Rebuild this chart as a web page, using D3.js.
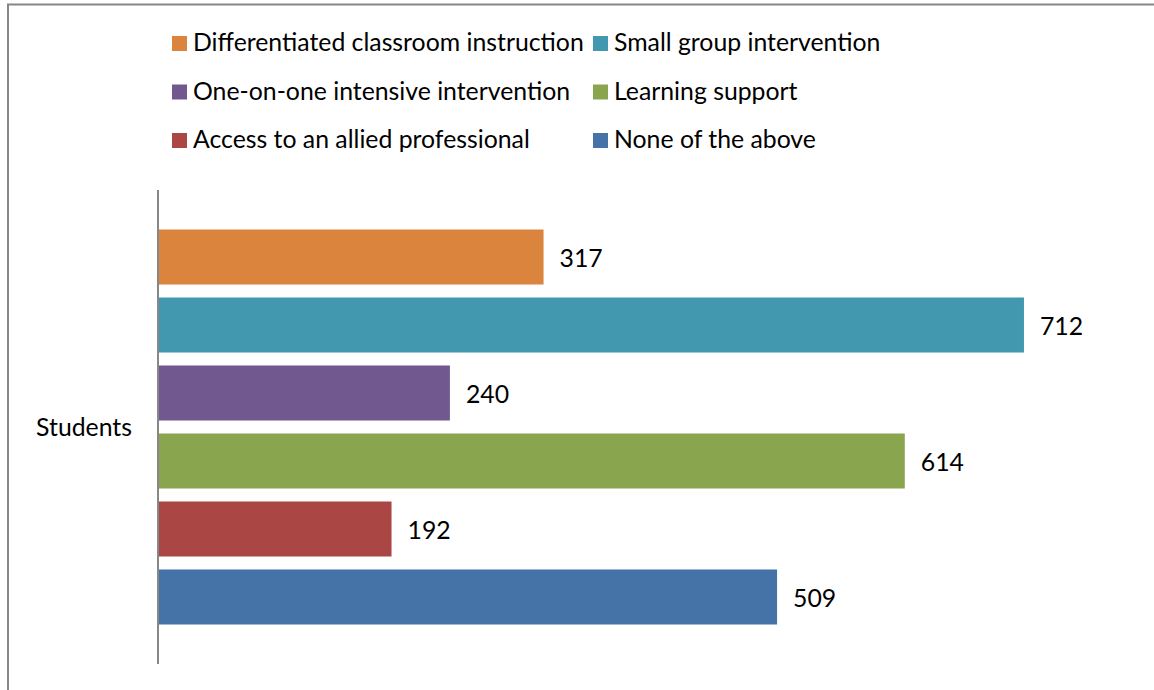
<!DOCTYPE html>
<html>
<head>
<meta charset="utf-8">
<script src="https://cdn.jsdelivr.net/npm/d3@7"></script>
<style>
  body { margin: 0; background: #fff; }
  svg text { font-family: Lato, "Liberation Sans", sans-serif; fill: #000; }
</style>
</head>
<body>
<svg id="chart" width="1154" height="690"></svg>
<script>
// data
var category = "Students";
var seriesNames = [
  "Differentiated classroom instruction",
  "Small group intervention",
  "One-on-one intensive intervention",
  "Learning support",
  "Access to an allied professional",
  "None of the above"
];
var seriesValues = [317, 712, 240, 614, 192, 509];
var seriesColors = ["#DB843D", "#4198AF", "#71588F", "#89A54E", "#AA4643", "#4572A7"];

var width = 1154, height = 690;
var fontSize = 24.8;

var svg = d3.select("#chart");

// outer chart frame (runs off the right and bottom edge)
svg.append("rect")
  .attr("x", 8).attr("y", 4.5)
  .attr("width", 1300).attr("height", 900)
  .attr("fill", "#fff")
  .attr("stroke", "#878787")
  .attr("stroke-width", 2);

var x = d3.scaleLinear()
  .domain([0, 800])
  .range([158, 1131]);

var y = d3.scaleBand()
  .domain(seriesNames)
  .range([190, 664])
  .paddingInner(0.191)
  .paddingOuter(0.581);

// bars
svg.append("g")
  .selectAll("rect")
  .data(seriesNames)
  .enter()
  .append("rect")
  .attr("x", x(0))
  .attr("y", function(d) { return y(d); })
  .attr("width", function(d, i) { return x(seriesValues[i]) - x(0); })
  .attr("height", y.bandwidth())
  .attr("fill", function(d, i) { return seriesColors[i]; });

// value labels
svg.append("g")
  .selectAll("text")
  .data(seriesNames)
  .enter()
  .append("text")
  .attr("x", function(d, i) { return x(seriesValues[i]) + 16; })
  .attr("y", function(d) { return y(d) + y.bandwidth() / 2 + 10; })
  .attr("font-size", fontSize)
  .text(function(d, i) { return seriesValues[i]; });

// category axis line
svg.append("line")
  .attr("x1", 158).attr("x2", 158)
  .attr("y1", 190).attr("y2", 664)
  .attr("stroke", "#878787")
  .attr("stroke-width", 2);

// category label
svg.append("text")
  .attr("x", 132)
  .attr("y", (190 + 664) / 2 + 9)
  .attr("text-anchor", "end")
  .attr("font-size", fontSize)
  .text(category);

// legend, two columns filled row by row
var legendCols = [172, 593];
var legendRows = [36, 84.5, 133];

var legend = svg.append("g")
  .selectAll("g")
  .data(seriesNames)
  .enter()
  .append("g")
  .attr("transform", function(d, i) {
    return "translate(" + legendCols[i % 2] + "," + legendRows[Math.floor(i / 2)] + ")";
  });

legend.append("rect")
  .attr("width", 15).attr("height", 15)
  .attr("fill", function(d, i) { return seriesColors[i]; });

legend.append("text")
  .attr("x", 21)
  .attr("y", 15)
  .attr("font-size", fontSize)
  .text(function(d) { return d; });
</script>
</body>
</html>
